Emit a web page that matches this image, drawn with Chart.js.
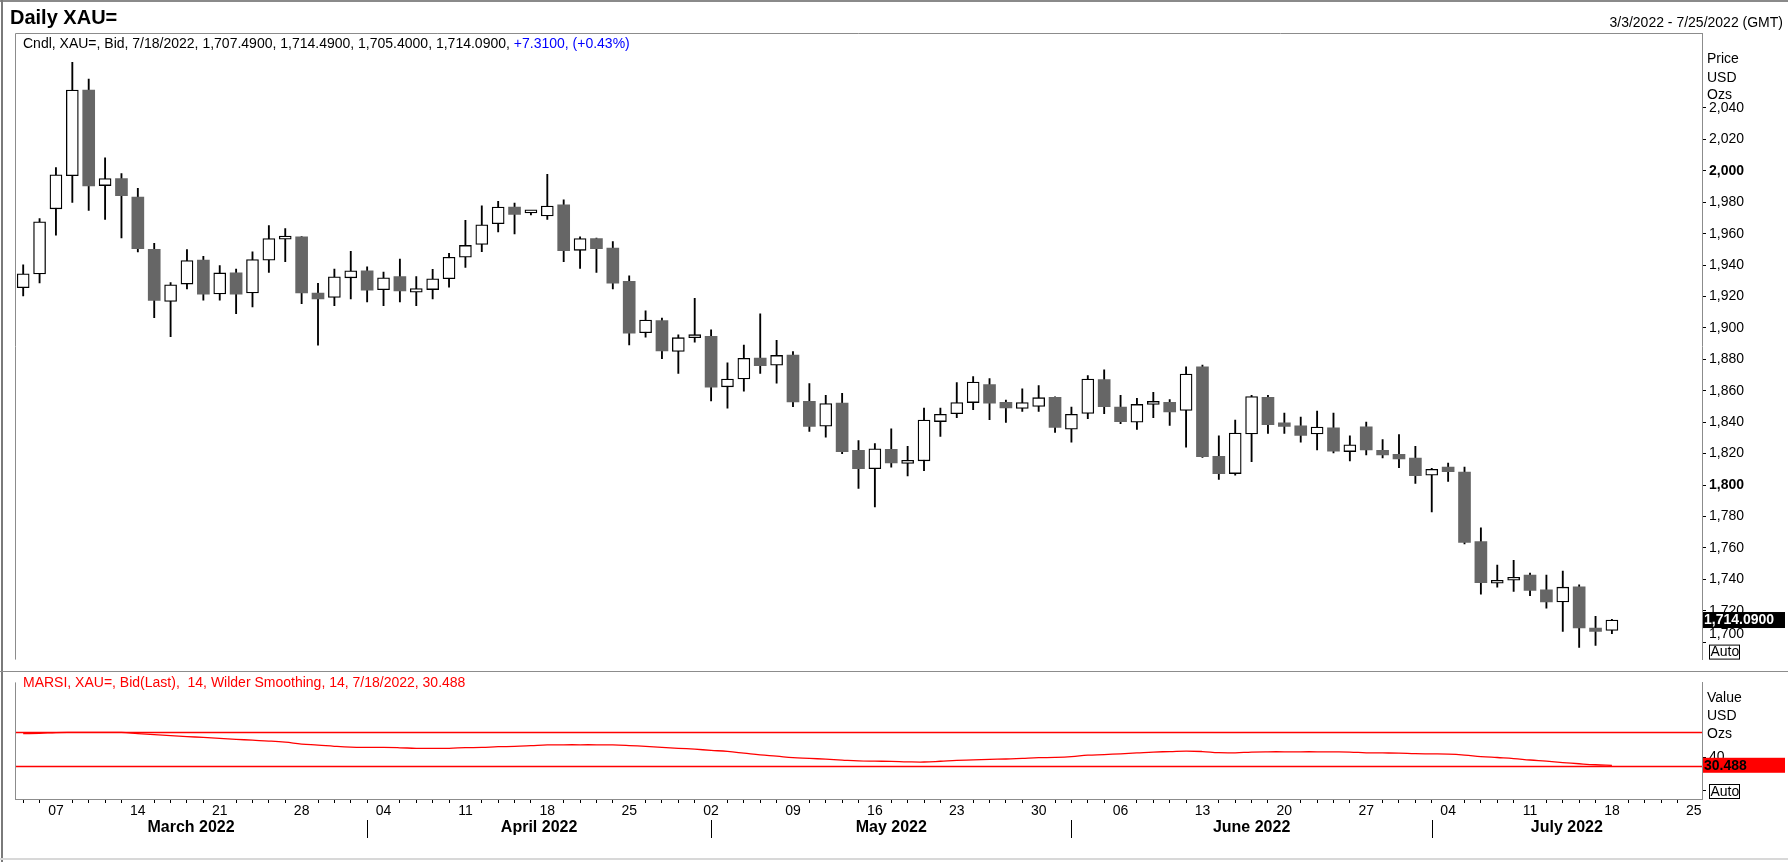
<!DOCTYPE html>
<html>
<head>
<meta charset="utf-8">
<script src="https://cdn.jsdelivr.net/npm/chart.js@4.4.1/dist/chart.umd.min.js"></script>
<style>
  body { margin: 0; background: #fff; }
  #page { position: relative; width: 1788px; height: 862px; overflow: hidden; background: #fff;
          font-family: "Liberation Sans", Arial, sans-serif; color: #000; }
  .txt { position: absolute; font-size: 14px; line-height: 16px; white-space: nowrap; }
  .wrap { position: absolute; left: 0; width: 1788px; }
  .line { position: absolute; background: #8c8c8c; }
</style>
</head>
<body>
<div id="page">
  <div class="wrap" style="top:0;height:671px"><canvas id="price"></canvas></div>
  <div class="wrap" style="top:671px;height:191px"><canvas id="rsi"></canvas></div>

  <div class="line" style="left:0;top:0;width:1788px;height:2px;background:#8a8a8a"></div>
  <div class="line" style="left:1px;top:0;width:2px;height:862px;background:#7a7a7a"></div>
  <div class="line" style="left:0;top:858px;width:1788px;height:2px;background:#d8d8d8"></div>
  <div class="line" style="left:0;top:671px;width:1788px;height:1px"></div>

  <div class="txt" style="left:10px;top:5px;font-size:20px;line-height:24px;font-weight:bold">Daily XAU=</div>
  <div class="txt" style="right:5px;top:14px">3/3/2022 - 7/25/2022 (GMT)</div>
  <div class="txt" style="left:23px;top:35px">Cndl, XAU=, Bid, 7/18/2022, 1,707.4900, 1,714.4900, 1,705.4000, 1,714.0900, <span style="color:#0000ff">+7.3100, (+0.43%)</span></div>
  <div class="txt" style="left:1707px;top:50px">Price</div>
  <div class="txt" style="left:1707px;top:69px">USD</div>
  <div class="txt" style="left:1707px;top:86px">Ozs</div>

  <div class="txt" style="left:23px;top:674px;color:#ff0000">MARSI, XAU=, Bid(Last),&nbsp; 14, Wilder Smoothing, 14, 7/18/2022, 30.488</div>
  <div class="txt" style="left:1707px;top:689px">Value</div>
  <div class="txt" style="left:1707px;top:707px">USD</div>
  <div class="txt" style="left:1707px;top:725px">Ozs</div>
</div>

<script>
// trading days shown on the axis (3/3/2022 - 7/25/2022)
const dates = [
  '2022-03-03','2022-03-04',
  '2022-03-07','2022-03-08','2022-03-09','2022-03-10','2022-03-11',
  '2022-03-14','2022-03-15','2022-03-16','2022-03-17','2022-03-18',
  '2022-03-21','2022-03-22','2022-03-23','2022-03-24','2022-03-25',
  '2022-03-28','2022-03-29','2022-03-30','2022-03-31','2022-04-01',
  '2022-04-04','2022-04-05','2022-04-06','2022-04-07','2022-04-08',
  '2022-04-11','2022-04-12','2022-04-13','2022-04-14','2022-04-15',
  '2022-04-18','2022-04-19','2022-04-20','2022-04-21','2022-04-22',
  '2022-04-25','2022-04-26','2022-04-27','2022-04-28','2022-04-29',
  '2022-05-02','2022-05-03','2022-05-04','2022-05-05','2022-05-06',
  '2022-05-09','2022-05-10','2022-05-11','2022-05-12','2022-05-13',
  '2022-05-16','2022-05-17','2022-05-18','2022-05-19','2022-05-20',
  '2022-05-23','2022-05-24','2022-05-25','2022-05-26','2022-05-27',
  '2022-05-30','2022-05-31','2022-06-01','2022-06-02','2022-06-03',
  '2022-06-06','2022-06-07','2022-06-08','2022-06-09','2022-06-10',
  '2022-06-13','2022-06-14','2022-06-15','2022-06-16','2022-06-17',
  '2022-06-20','2022-06-21','2022-06-22','2022-06-23','2022-06-24',
  '2022-06-27','2022-06-28','2022-06-29','2022-06-30','2022-07-01',
  '2022-07-04','2022-07-05','2022-07-06','2022-07-07','2022-07-08',
  '2022-07-11','2022-07-12','2022-07-13','2022-07-14','2022-07-15',
  '2022-07-18','2022-07-19','2022-07-20','2022-07-21','2022-07-22',
  '2022-07-25'
];

const opens = [
  1925.6, 1934.4, 1975.8, 1996.9, 2051.4, 1990.6, 1995.0, 1983.3, 1950.0, 1916.9,
  1927.9, 1943.1, 1921.6, 1935.0, 1922.2, 1943.1, 1956.5, 1957.9, 1922.1, 1919.4,
  1931.9, 1936.3, 1924.3, 1932.7, 1922.7, 1924.4, 1931.3, 1945.0, 1953.1, 1966.3,
  1976.9, 1973.2, 1971.3, 1978.3, 1949.4, 1956.9, 1950.8, 1929.6, 1896.9, 1904.6,
  1885.0, 1893.8, 1894.6, 1862.5, 1867.5, 1880.8, 1876.3, 1882.7, 1853.3, 1837.5,
  1852.1, 1822.1, 1810.4, 1822.7, 1813.8, 1815.4, 1840.4, 1845.4, 1852.5, 1864.0,
  1852.7, 1848.8, 1850.0, 1855.8, 1835.6, 1845.6, 1867.1, 1849.6, 1840.0, 1851.3,
  1852.7, 1847.5, 1875.2, 1818.2, 1807.3, 1832.5, 1855.8, 1839.6, 1837.7, 1832.5,
  1836.4, 1821.3, 1837.1, 1822.1, 1819.6, 1817.1, 1806.3, 1811.4, 1808.3, 1764.0,
  1737.5, 1739.4, 1742.7, 1733.3, 1725.6, 1735.2, 1709.0, 1707.49
];
const highs = [
  1940.2, 1969.6, 2002.0, 2069.1, 2058.3, 2008.3, 1998.3, 1988.9, 1953.9, 1928.9,
  1949.8, 1945.6, 1939.6, 1937.5, 1948.5, 1965.2, 1963.3, 1958.2, 1928.3, 1937.5,
  1948.8, 1938.8, 1935.6, 1943.8, 1932.7, 1937.3, 1947.5, 1968.5, 1977.7, 1980.6,
  1979.4, 1974.6, 1997.7, 1981.6, 1957.9, 1957.2, 1955.0, 1933.1, 1910.8, 1906.3,
  1895.6, 1918.8, 1898.8, 1877.7, 1889.0, 1909.0, 1892.1, 1885.0, 1864.6, 1857.1,
  1858.3, 1828.3, 1826.4, 1835.8, 1824.6, 1849.0, 1849.0, 1865.2, 1869.0, 1867.7,
  1854.0, 1861.3, 1863.3, 1856.2, 1849.6, 1869.6, 1873.3, 1857.1, 1855.2, 1859.0,
  1854.4, 1875.2, 1876.4, 1831.3, 1841.4, 1857.1, 1857.1, 1845.8, 1843.3, 1847.1,
  1845.8, 1831.3, 1840.0, 1829.0, 1832.1, 1824.6, 1810.6, 1814.0, 1811.4, 1772.7,
  1749.0, 1752.1, 1744.0, 1742.7, 1745.2, 1736.5, 1716.4, 1714.49
];
const lows = [
  1920.4, 1928.7, 1959.1, 1979.8, 1974.8, 1969.1, 1957.3, 1948.3, 1906.6, 1894.5,
  1924.8, 1917.7, 1917.7, 1909.1, 1913.3, 1935.4, 1942.1, 1915.4, 1889.0, 1914.2,
  1918.4, 1916.5, 1914.2, 1916.5, 1914.2, 1918.5, 1926.0, 1938.5, 1948.5, 1961.1,
  1959.8, 1971.9, 1969.1, 1942.1, 1937.9, 1935.4, 1924.8, 1889.1, 1894.1, 1880.4,
  1871.0, 1891.0, 1853.5, 1849.0, 1859.8, 1871.0, 1864.8, 1849.8, 1834.1, 1830.4,
  1820.0, 1797.9, 1786.0, 1811.4, 1805.8, 1809.1, 1831.0, 1842.9, 1847.9, 1841.6,
  1839.8, 1846.9, 1846.9, 1833.5, 1827.3, 1842.3, 1845.4, 1839.0, 1835.4, 1842.9,
  1837.9, 1824.1, 1817.5, 1803.5, 1806.3, 1814.8, 1832.9, 1832.9, 1827.3, 1822.3,
  1820.4, 1815.4, 1819.1, 1817.3, 1811.0, 1801.0, 1782.9, 1802.3, 1762.5, 1730.6,
  1735.0, 1732.3, 1729.6, 1721.6, 1706.9, 1696.6, 1697.9, 1705.40
];
const closes = [
  1934.4, 1967.5, 1997.5, 2051.4, 1990.4, 1995.0, 1984.1, 1950.4, 1917.5, 1927.5,
  1942.9, 1921.4, 1935.0, 1921.4, 1943.5, 1956.9, 1956.9, 1922.2, 1918.5, 1932.5,
  1936.3, 1924.1, 1931.9, 1923.5, 1925.0, 1931.3, 1945.0, 1952.5, 1965.6, 1976.9,
  1972.3, 1973.6, 1977.5, 1949.1, 1956.9, 1950.4, 1928.5, 1896.6, 1905.0, 1885.4,
  1893.8, 1895.6, 1862.3, 1867.5, 1880.6, 1876.0, 1882.5, 1852.9, 1837.3, 1851.9,
  1821.3, 1810.4, 1823.1, 1814.0, 1815.2, 1841.3, 1845.0, 1852.5, 1865.6, 1852.1,
  1849.1, 1852.5, 1855.6, 1836.6, 1845.0, 1867.5, 1849.8, 1840.4, 1851.3, 1852.5,
  1846.6, 1870.6, 1818.0, 1807.3, 1833.1, 1856.3, 1838.5, 1837.3, 1831.6, 1836.9,
  1821.6, 1825.6, 1822.3, 1819.1, 1816.6, 1806.0, 1810.0, 1808.5, 1763.5, 1737.9,
  1739.4, 1741.3, 1732.9, 1725.6, 1735.0, 1709.1, 1706.78, 1714.09
];

// MARSI 14, Wilder smoothing
const rsiValues = [
  68.6, 68.8, 69.8, 70.0, 70.0, 70.0, 70.0, 68.6, 67.3, 66.2,
  65.0, 63.9, 62.8, 61.7, 60.6, 59.6, 58.2, 56.0, 54.8, 53.3,
  52.2, 51.9, 51.9, 51.5, 50.9, 50.8, 50.9, 51.6, 52.0, 52.8,
  53.2, 54.0, 54.9, 55.1, 55.1, 55.1, 55.0, 54.2, 53.1, 52.0,
  50.9, 49.8, 48.4, 47.1, 45.1, 43.0, 41.4, 39.6, 38.8, 37.8,
  36.7, 35.7, 35.4, 35.2, 34.6, 34.4, 35.3, 36.4, 36.9, 37.6,
  38.0, 38.8, 39.6, 40.0, 40.9, 42.6, 43.3, 44.3, 45.3, 46.4,
  46.9, 47.6, 47.0, 45.6, 45.5, 46.4, 46.7, 46.7, 46.7, 46.7,
  46.6, 46.4, 45.5, 45.3, 45.1, 44.4, 44.2, 43.9, 42.8, 41.0,
  39.8, 38.6, 36.8, 35.4, 33.7, 32.3, 31.1, 30.488
];
const rsiLevels = [70, 30];

const priceTicks = [1700, 1720, 1740, 1760, 1780, 1800, 1820, 1840, 1860, 1880,
  1900, 1920, 1940, 1960, 1980, 2000, 2020, 2040];
const rsiTicks = [0, 40];

const monthNames = ['March 2022', 'April 2022', 'May 2022', 'June 2022', 'July 2022'];
const monthStarts = ['2022-03-03', '2022-04-01', '2022-05-02', '2022-06-01', '2022-07-01'];

const lastClose = closes[closes.length - 1];
const lastRsi = rsiValues[rsiValues.length - 1];

const FONT = '"Liberation Sans", Arial, sans-serif';
Chart.defaults.font.family = FONT;
Chart.defaults.font.size = 14;
Chart.defaults.color = '#000';

const FRAME = '#8c8c8c';
const DARK = '#666666';
const AXIS_W = 86;

function isMonday(d) {
  return new Date(d + 'T00:00:00Z').getUTCDay() === 1;
}
function fmt(v) {
  return v.toLocaleString('en-US');
}
function autoBox(ctx, x, y) {
  ctx.save();
  ctx.fillStyle = '#fff';
  ctx.fillRect(x, y, 30, 14);
  ctx.strokeStyle = '#000';
  ctx.lineWidth = 1;
  ctx.strokeRect(x + 0.5, y + 0.5, 30, 14);
  ctx.fillStyle = '#000';
  ctx.font = '14px ' + FONT;
  ctx.textBaseline = 'middle';
  ctx.fillText('Auto', x + 1.5, y + 8);
  ctx.restore();
}

const upCandle = (i) => closes[i] >= opens[i];

const priceDecor = {
  id: 'priceDecor',
  afterDraw(chart) {
    const { ctx, chartArea: a } = chart;
    const y = chart.scales.y;
    ctx.save();
    ctx.strokeStyle = FRAME;
    ctx.lineWidth = 1;
    ctx.beginPath();
    ctx.moveTo(a.left + 0.5, a.bottom);
    ctx.lineTo(a.left + 0.5, a.top + 0.5);
    ctx.lineTo(a.right, a.top + 0.5);
    ctx.stroke();

    // 1,700 label sits just above its tick
    ctx.fillStyle = '#000';
    ctx.font = '14px ' + FONT;
    ctx.textBaseline = 'middle';
    ctx.fillText(fmt(1700), a.right + 7, y.getPixelForValue(1700) - 8);

    // last price tag
    const py = y.getPixelForValue(lastClose);
    ctx.fillStyle = '#000';
    ctx.fillRect(a.right + 1, py - 8, 82, 16);
    ctx.fillStyle = '#fff';
    ctx.font = 'bold 14px ' + FONT;
    ctx.fillText(lastClose.toLocaleString('en-US', { minimumFractionDigits: 4 }), a.right + 2, py + 0.5);
    ctx.restore();

    autoBox(ctx, a.right + 7, a.bottom - 15);
  }
};

new Chart(document.getElementById('price'), {
  type: 'bar',
  data: {
    labels: dates,
    datasets: [
      {
        label: 'wick',
        data: lows.map((l, i) => [l, highs[i]]),
        backgroundColor: '#000',
        barThickness: 1.2,
        grouped: false,
        order: 2
      },
      {
        label: 'body',
        data: opens.map((o, i) => [o, closes[i]]),
        backgroundColor: (c) => upCandle(c.dataIndex) ? '#fff' : DARK,
        borderColor: (c) => upCandle(c.dataIndex) ? '#000' : DARK,
        borderWidth: (c) => upCandle(c.dataIndex) ? 1.3 : 0,
        borderSkipped: false,
        minBarLength: 3,
        barThickness: 12,
        grouped: false,
        order: 1
      }
    ]
  },
  options: {
    responsive: true,
    maintainAspectRatio: false,
    animation: false,
    layout: { padding: { left: 15, top: 33, right: 0, bottom: 0 } },
    plugins: { legend: { display: false }, tooltip: { enabled: false } },
    scales: {
      x: { type: 'category', offset: true, display: false },
      y: {
        position: 'right',
        min: 1688.9,
        max: 2087.7,
        afterFit: (s) => { s.width = AXIS_W; },
        afterBuildTicks: (s) => { s.ticks = priceTicks.map((v) => ({ value: v })); },
        grid: { drawOnChartArea: false, tickLength: 4, tickColor: '#000' },
        border: { display: true, color: FRAME },
        ticks: {
          padding: 3,
          color: '#000',
          font: (c) => ({ family: FONT, size: 14, weight: c.tick && c.tick.value % 200 === 0 ? 'bold' : 'normal' }),
          callback: (v) => v === 1700 ? '' : fmt(v)
        }
      }
    }
  },
  plugins: [priceDecor]
});

const rsiDecor = {
  id: 'rsiDecor',
  beforeDatasetsDraw(chart) {
    const { ctx, chartArea: a } = chart;
    const y = chart.scales.y;
    ctx.save();
    ctx.strokeStyle = '#ff0000';
    ctx.lineWidth = 1.3;
    rsiLevels.forEach((lv) => {
      const py = Math.round(y.getPixelForValue(lv)) + 0.5;
      ctx.beginPath();
      ctx.moveTo(a.left, py);
      ctx.lineTo(a.right, py);
      ctx.stroke();
    });
    ctx.restore();
  },
  afterDraw(chart) {
    const { ctx, chartArea: a } = chart;
    const x = chart.scales.x;
    const y = chart.scales.y;
    ctx.save();
    ctx.strokeStyle = FRAME;
    ctx.lineWidth = 1;
    ctx.beginPath();
    ctx.moveTo(a.left + 0.5, a.top);
    ctx.lineTo(a.left + 0.5, a.bottom);
    ctx.stroke();

    // month row
    const seps = monthStarts.map((d, i) => i === 0 ? a.left : x.getPixelForValue(dates.indexOf(d)));
    ctx.strokeStyle = '#000';
    ctx.fillStyle = '#000';
    ctx.font = 'bold 16px ' + FONT;
    ctx.textAlign = 'center';
    ctx.textBaseline = 'middle';
    monthNames.forEach((name, i) => {
      const x0 = seps[i];
      const x1 = i + 1 < seps.length ? seps[i + 1] : a.right;
      if (i > 0) {
        ctx.beginPath();
        ctx.moveTo(Math.round(x0) + 0.5, a.bottom + 21);
        ctx.lineTo(Math.round(x0) + 0.5, a.bottom + 39);
        ctx.stroke();
      }
      ctx.fillText(name, (x0 + x1) / 2, a.bottom + 29);
    });

    // last value tag
    const py = y.getPixelForValue(lastRsi);
    ctx.textAlign = 'left';
    ctx.fillStyle = '#ff0000';
    ctx.fillRect(a.right + 1, py - 7.5, 82, 15);
    ctx.fillStyle = '#000';
    ctx.font = 'bold 14px ' + FONT;
    ctx.fillText(lastRsi.toFixed(3), a.right + 2, py + 0.5);
    ctx.restore();

    autoBox(ctx, a.right + 7, a.bottom - 15);
  }
};

new Chart(document.getElementById('rsi'), {
  type: 'line',
  data: {
    labels: dates,
    datasets: [{
      label: 'MARSI',
      data: rsiValues,
      borderColor: '#ff0000',
      borderWidth: 1.3,
      pointRadius: 0,
      tension: 0.4,
      fill: false
    }]
  },
  options: {
    responsive: true,
    maintainAspectRatio: false,
    animation: false,
    layout: { padding: { left: 15, top: 0, right: 0, bottom: 0 } },
    plugins: { legend: { display: false }, tooltip: { enabled: false } },
    scales: {
      x: {
        type: 'category',
        offset: true,
        afterFit: (s) => { s.height = 63; },
        grid: {
          drawOnChartArea: false,
          offset: false,
          tickLength: 4,
          tickColor: (c) => (c.tick && isMonday(dates[c.index])) ? 'rgba(0,0,0,0)' : '#000'
        },
        border: { display: true, color: FRAME },
        ticks: {
          autoSkip: false,
          maxRotation: 0,
          padding: 0,
          color: '#000',
          callback: (v, i) => isMonday(dates[i]) ? dates[i].slice(8) : ''
        }
      },
      y: {
        position: 'right',
        min: -10,
        max: 130,
        afterFit: (s) => { s.width = AXIS_W; },
        afterBuildTicks: (s) => { s.ticks = rsiTicks.map((v) => ({ value: v })); },
        grid: { drawOnChartArea: false, tickLength: 4, tickColor: '#000' },
        border: { display: true, color: FRAME },
        ticks: { padding: 3, color: '#000' }
      }
    }
  },
  plugins: [rsiDecor]
});
</script>
</body>
</html>
